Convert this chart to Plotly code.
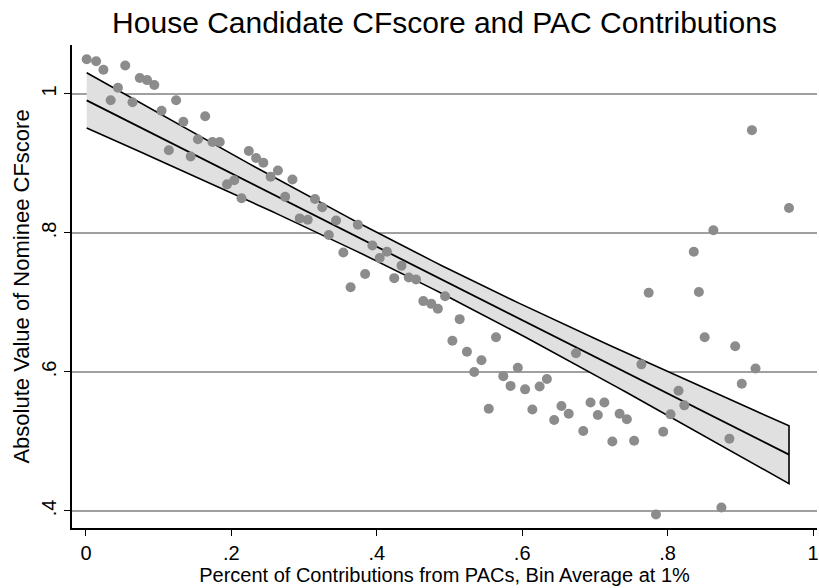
import numpy as np
import plotly.graph_objects as go

# Bin average share of contributions from PACs
pac_share = [0.001, 0.014, 0.024, 0.034, 0.044, 0.054, 0.064, 0.074, 0.084, 0.094,
             0.104, 0.114, 0.124, 0.134, 0.144, 0.154, 0.164, 0.174, 0.184, 0.194,
             0.204, 0.214, 0.224, 0.234, 0.244, 0.254, 0.264, 0.274, 0.284, 0.294,
             0.305, 0.315, 0.325, 0.334, 0.344, 0.354, 0.364, 0.374, 0.384, 0.394,
             0.404, 0.414, 0.424, 0.434, 0.444, 0.454, 0.464, 0.475, 0.484, 0.494,
             0.504, 0.514, 0.524, 0.534, 0.544, 0.554, 0.564, 0.574, 0.584, 0.594,
             0.604, 0.614, 0.624, 0.634, 0.644, 0.654, 0.664, 0.674, 0.684, 0.694,
             0.704, 0.713, 0.724, 0.734, 0.744, 0.754, 0.764, 0.774, 0.784, 0.794,
             0.804, 0.815, 0.823, 0.836, 0.843, 0.851, 0.863, 0.874, 0.885, 0.893,
             0.902, 0.916, 0.921, 0.967]
# Absolute value of nominee CFscore
cfscore = [1.050, 1.047, 1.035, 0.991, 1.009, 1.041, 0.988, 1.023, 1.020, 1.013,
           0.976, 0.919, 0.991, 0.960, 0.910, 0.935, 0.968, 0.931, 0.931, 0.870,
           0.876, 0.850, 0.918, 0.908, 0.901, 0.881, 0.890, 0.852, 0.877, 0.821,
           0.819, 0.849, 0.837, 0.797, 0.818, 0.772, 0.722, 0.812, 0.741, 0.782,
           0.764, 0.773, 0.735, 0.753, 0.736, 0.733, 0.702, 0.698, 0.691, 0.709,
           0.645, 0.676, 0.629, 0.600, 0.617, 0.547, 0.650, 0.594, 0.580, 0.606,
           0.575, 0.546, 0.579, 0.590, 0.531, 0.551, 0.540, 0.627, 0.515, 0.556,
           0.538, 0.556, 0.500, 0.540, 0.532, 0.501, 0.611, 0.714, 0.395, 0.514,
           0.539, 0.573, 0.552, 0.773, 0.715, 0.650, 0.804, 0.405, 0.504, 0.637,
           0.583, 0.948, 0.605, 0.836]

x_tick_vals = [0, 0.2, 0.4, 0.6, 0.8, 1]
x_tick_text = ["0", ".2", ".4", ".6", ".8", "1"]
y_tick_vals = [0.4, 0.6, 0.8, 1]
y_tick_text = [".4", ".6", ".8", "1"]

# Linear fit with 95% CI of the mean prediction (like Stata lfitci)
x = np.array(pac_share)
y = np.array(cfscore)
n = len(x)
b, a = np.polyfit(x, y, 1)
resid = y - (a + b * x)
s = np.sqrt(np.sum(resid ** 2) / (n - 2))
sxx = np.sum((x - x.mean()) ** 2)
t_crit = 1.986
xf = np.linspace(x.min(), x.max(), 100)
yf = a + b * xf
se = s * np.sqrt(1.0 / n + (xf - x.mean()) ** 2 / sxx)
upper = yf + t_crit * se
lower = yf - t_crit * se

fig = go.Figure()
fig.add_trace(go.Scatter(
    x=list(xf) + list(xf[::-1]), y=list(upper) + list(lower[::-1]),
    mode="lines", fill="toself", fillcolor="#e0e0e0",
    line=dict(color="black", width=1.6), hoverinfo="skip", showlegend=False))
fig.add_trace(go.Scatter(x=xf, y=yf, mode="lines",
                         line=dict(color="black", width=1.8), showlegend=False))
fig.add_trace(go.Scatter(x=pac_share, y=cfscore, mode="markers",
                         marker=dict(color="#8c8c8c", size=10, line=dict(width=0)),
                         showlegend=False))

font_family = "Liberation Sans, Arial, Helvetica, sans-serif"
fig.update_layout(
    width=819, height=588,
    margin=dict(l=72, r=0, t=45, b=60),
    paper_bgcolor="white", plot_bgcolor="white",
    font=dict(family=font_family, color="black", size=20),
    title=dict(text="House Candidate CFscore and PAC Contributions",
               x=0.5, xref="paper", xanchor="center", y=0.962, yanchor="middle",
               font=dict(size=30, family=font_family, color="black")),
    xaxis=dict(range=[-0.0192, 1.0055], tickvals=x_tick_vals, ticktext=x_tick_text,
               showgrid=False, zeroline=False, showline=True, linecolor="black",
               linewidth=1.5, ticks="outside", ticklen=6, tickwidth=1.3,
               tickcolor="black", tickfont=dict(size=20),
               ticklabeloverflow="allow",
               title=dict(text="Percent of Contributions from PACs, Bin Average at 1%",
                          font=dict(size=20), standoff=0)),
    yaxis=dict(range=[0.3755, 1.0705], tickvals=y_tick_vals, ticktext=y_tick_text,
               tickangle=-90, showgrid=True, gridcolor="#a0a0a0", gridwidth=1.5,
               zeroline=False, showline=True, linecolor="black", linewidth=1.5,
               ticks="outside", ticklen=6, tickwidth=1.3, tickcolor="black",
               tickfont=dict(size=20),
               title=dict(text="Absolute Value of Nominee CFscore",
                          font=dict(size=22), standoff=3)),
)

fig.write_html("out.html")
